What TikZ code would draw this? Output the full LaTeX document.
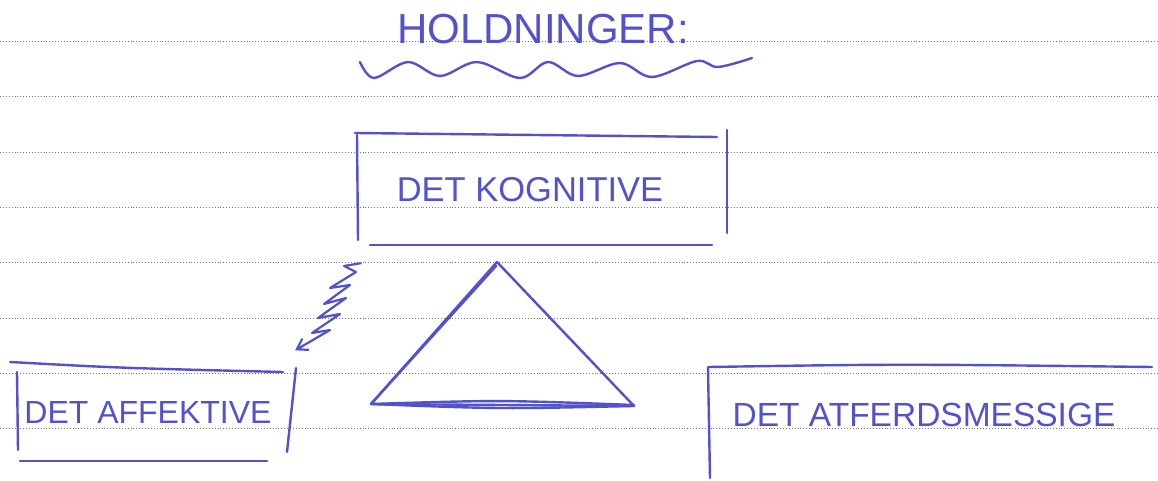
\documentclass[tikz,border=0pt]{standalone}
\usepackage{fontspec}
\setmainfont{Liberation Sans}
\usetikzlibrary{arrows.meta,calc}
\definecolor{ink}{RGB}{82,82,204}
\definecolor{rule}{RGB}{120,120,120}
\tikzset{
  pen/.style={draw=ink, line width=2.4pt, line cap=round, line join=round},
  thinpen/.style={draw=ink, line width=2.2pt, line cap=round, line join=round},
  ruling/.style={draw=rule, line width=0.9pt, dotted},
  hand/.style={text=ink, inner sep=0pt, anchor=center},
  area/.style={inner sep=0pt, draw=none}
}
\begin{document}
\begin{tikzpicture}[x=1pt,y=-1pt]
\useasboundingbox (0,0) rectangle (1158,481);
\fill[white] (0,0) rectangle (1158,481);
% ruled lines
\foreach \yy in {41,96,152,207,262,318,373,428}{
  \draw[ruling] (0,\yy) -- (1158,\yy);
}
% title
\node[hand, font=\fontsize{42}{42}\selectfont] (title) at (543,29) {HOLDNINGER:};
\draw[pen] plot[smooth, tension=0.55] coordinates {(360,62) (374,78) (408,62) (440,76) (477,62) (520,78) (548,62) (578,76) (620,63) (652,77) (697,61) (718,67) (752,58)};
% top box
\node[area, minimum width=370pt, minimum height=112pt] (kogbox) at (541,189) {};
\node[hand, font=\fontsize{34.5}{34.5}\selectfont] (kog) at (530,190) {DET KOGNITIVE};
\draw[pen] (355,133) -- (717,137);
\draw[pen] (357,135) -- (358,240);
\draw[pen] (727,130) -- (727,233);
\draw[pen] (370,245) -- (712,245);
% left box
\node[area, minimum width=286pt, minimum height=95pt] (affbox) at (153,414) {};
\node[hand, font=\fontsize{32}{32}\selectfont] (aff) at (148,412) {DET AFFEKTIVE};
\draw[pen] (10,362) .. controls (120,368) .. (283,372);
\draw[pen] (17,372) -- (18,450);
\draw[pen] (296,368) -- (287,452);
\draw[pen] (20,461) -- (267,461);
% right box
\node[area, minimum width=450pt, minimum height=110pt] (atfbox) at (930,424) {};
\node[hand, font=\fontsize{33.5}{33.5}\selectfont] (atf) at (924,415) {DET ATFERDSMESSIGE};
\draw[pen] (708,367) .. controls (900,364) .. (1152,367);
\draw[pen] (708,368) -- (710,478);
% triangle
\coordinate (apex) at (497,262);
\coordinate (bl) at (371,404);
\coordinate (br) at (634,406);
\draw[pen] (apex) -- (br) -- (bl) -- cycle;
\draw[pen] (bl) -- (496,266);
\draw[pen] (bl) .. controls (500,400) .. (634,405);
\draw[pen] (bl) .. controls (500,409) .. (632,406);
% zigzag arrow
\coordinate (zs) at ($(kogbox.south west)+(5,18)$);
\coordinate (ze) at ($(affbox.north east)+(-1,-16)$);
\draw[thinpen, -{Straight Barb[length=10pt,width=13pt]}] (zs) -- (344,266) -- (356,272) -- (330,288) -- (350,285) -- (324,304) -- (346,298) -- (318,318) -- (340,314) -- (312,333) -- (330,330) -- (ze);
\end{tikzpicture}
\end{document}
